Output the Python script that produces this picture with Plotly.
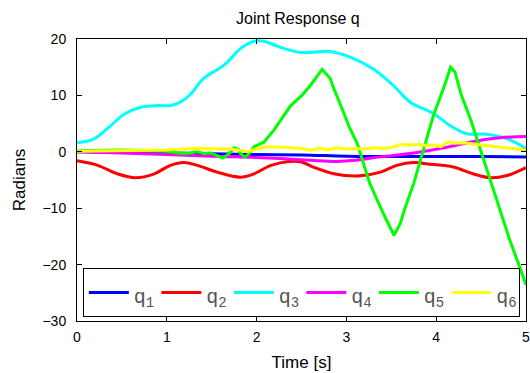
import plotly.graph_objects as go

# ---- data ----
t_q1 = [0, 0.5, 1.0, 1.5, 2.0, 2.5, 3.0, 3.5, 4.0, 4.5, 5.0]
q1 = [0, -0.1, -0.2, -0.35, -0.5, -0.55, -0.8, -0.85, -0.85, -0.85, -0.9]

t_q2 = [0, 0.23, 0.45, 0.65, 0.86, 1.04, 1.19, 1.34, 1.56, 1.82, 1.97, 2.16, 2.36, 2.5,
        2.63, 2.86, 3.12, 3.38, 3.56, 3.75, 3.93, 4.19, 4.41, 4.6, 4.79, 5.0]
q2 = [-1.6, -2.4, -3.9, -4.6, -3.9, -2.4, -1.9, -2.4, -3.6, -4.5, -3.9, -2.4, -1.7, -1.8,
      -2.7, -3.9, -4.3, -3.6, -2.4, -1.9, -2.2, -2.7, -3.9, -4.6, -4.2, -2.8]

t_q3 = [0, 0.19, 0.38, 0.52, 0.71, 0.9, 1.04, 1.15, 1.27, 1.41, 1.64, 1.82, 1.97, 2.08,
        2.27, 2.5, 2.82, 3.04, 3.3, 3.52, 3.71, 3.97, 4.15, 4.34, 4.56, 4.79, 5.0]
q3 = [1.6, 2.3, 4.7, 6.6, 7.9, 8.2, 8.2, 8.8, 10.3, 13.0, 15.4, 18.3, 19.6, 19.6,
      18.5, 17.6, 17.8, 16.8, 14.7, 11.8, 8.8, 6.8, 4.7, 3.2, 3.1, 2.3, 0.6]

t_q4 = [0, 0.5, 1.0, 1.5, 2.0, 2.26, 2.6, 2.89, 3.1, 3.38, 3.75, 4.12, 4.4, 4.71, 5.0]
q4 = [0, -0.2, -0.5, -0.8, -1.0, -1.2, -1.5, -1.7, -1.5, -0.9, -0.2, 0.8, 1.8, 2.5, 2.7]

t_q5 = [0, 0.5, 1.0, 1.12, 1.23, 1.34, 1.41, 1.49, 1.62, 1.69, 1.75, 1.80, 1.82, 1.87,
        1.92, 1.97, 2.08, 2.19, 2.38, 2.51, 2.60, 2.73, 2.82, 2.86, 2.93, 3.04, 3.12,
        3.26, 3.41, 3.53, 3.60, 3.65, 3.75, 3.84, 3.97, 4.08, 4.16, 4.21, 4.28, 4.38,
        4.51, 4.64, 4.82, 4.93, 5.0]
q5 = [0.2, 0.3, 0.1, -0.2, -0.3, 0, -0.3, -0.2, -1.1, -0.4, 0.7, 0.4, -0.3, -0.9,
      -0.3, 0.9, 1.7, 3.8, 8.2, 10.1, 11.8, 14.6, 13.0, 11.2, 8.5, 4.1, 1.5,
      -5.6, -10.9, -14.8, -12.7, -10.1, -5.6, -0.8, 6.5, 11.2, 15.0, 14.1, 10.0, 5.9,
      -0.6, -6.8, -15.7, -20.4, -23.6]

t_q6 = [0, 0.5, 1.0, 1.3, 1.5, 1.7, 1.85, 1.9, 2.0, 2.1, 2.3, 2.5, 2.6, 2.7, 2.8, 2.9,
        3.0, 3.1, 3.2, 3.3, 3.4, 3.5, 3.6, 3.7, 3.8, 3.9, 4.0, 4.05, 4.1, 4.15, 4.2,
        4.3, 4.5, 4.7, 4.9, 5.0]
q6 = [0.1, 0.2, 0.3, 0.6, 0.5, 0.5, 0.2, 0.0, 0.5, 0.9, 0.8, 0.6, 0.3, 0.6, 0.4, 0.7,
      0.5, 0.6, 0.5, 0.7, 0.6, 0.7, 1.3, 1.2, 1.3, 1.1, 1.2, 0.9, 1.5, 1.8, 1.5,
      1.6, 1.2, 0.9, 0.5, 0.3]

names = ["q<sub>1</sub>", "q<sub>2</sub>", "q<sub>3</sub>",
         "q<sub>4</sub>", "q<sub>5</sub>", "q<sub>6</sub>"]
colors = ["#0000FF", "#FF0000", "#00FFFF", "#FF00FF", "#00FF00", "#FFFF00"]
times = [t_q1, t_q2, t_q3, t_q4, t_q5, t_q6]
values = [q1, q2, q3, q4, q5, q6]
shapes = ["spline", "spline", "spline", "spline", "linear", "linear"]

x_ticks = [0, 1, 2, 3, 4, 5]
y_ticks = [-30, -20, -10, 0, 10, 20]

fig = go.Figure()
for name, tx, vy, col, shp in zip(names, times, values, colors, shapes):
    fig.add_trace(go.Scatter(
        x=tx, y=vy, mode="lines",
        name='<span style="font-size:20px">' + name + '</span>',
        line=dict(color=col, width=3, shape=shp)))

axis_common = dict(showline=True, linecolor="black", linewidth=1, mirror="ticks",
                   ticks="inside", ticklen=5, tickcolor="black", showgrid=False,
                   zeroline=False, tickfont=dict(size=14, color="black"),
                   ticklabeloverflow="allow")

fig.update_layout(
    width=530, height=373,
    margin=dict(l=77, r=3.5, t=38.5, b=52, autoexpand=False),
    paper_bgcolor="white", plot_bgcolor="white",
    font=dict(family="Liberation Sans, Arial, sans-serif", size=14, color="black"),
    title=dict(text="Joint Response q", x=0.562, xanchor="center", y=0.952, yanchor="middle",
               font=dict(size=16)),
    xaxis=dict(range=[0, 5], tickvals=x_ticks, ticklabelstandoff=3,
               title=dict(text="Time [s]", standoff=12), **axis_common),
    yaxis=dict(range=[-30, 20], tickvals=y_ticks, ticklabelstandoff=7,
               title=dict(text="Radians", standoff=12), **axis_common),
    legend=dict(orientation="h", x=0.013, y=0.188, xanchor="left", yanchor="top",
                bgcolor="white", bordercolor="black", borderwidth=1,
                font=dict(family="Liberation Mono, monospace", size=26, color="#555555"),
                entrywidth=17.5, entrywidthmode="pixels", itemwidth=40, tracegroupgap=0),
)

# remove the browser's default page margin so the figure sits at the window's corner
fig.write_html("out.html",
               config={"displayModeBar": False, "staticPlot": True},
               post_script="document.body.style.margin='0';"
                           "document.body.style.overflow='hidden';")
